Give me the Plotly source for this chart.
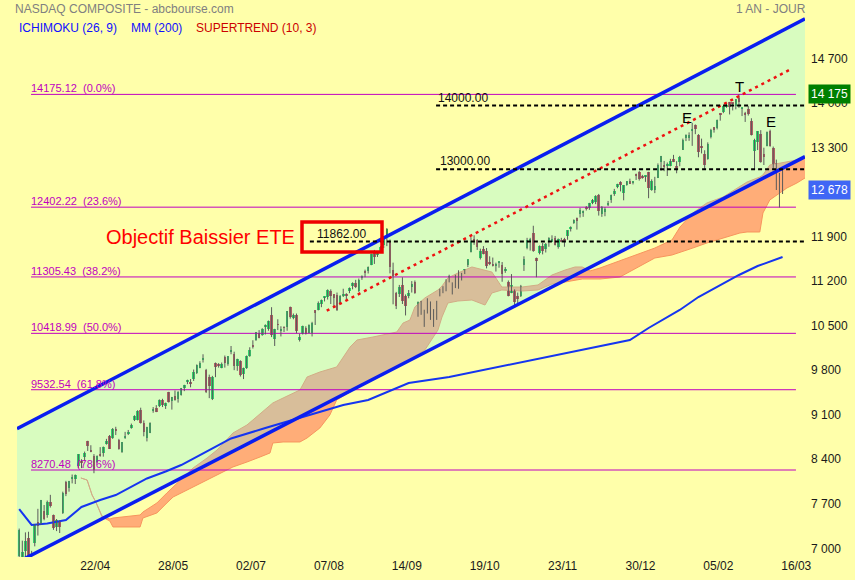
import plotly.graph_objects as go

# ---------------- candles : (open, high, low, close) per trading day ----------------
mar20 = [(6920,7350,6900,7334),(6904,7160,6780,6989),(6990,7290,6850,7150),(7200,7300,6870,6879),
         (6870,7000,6631,6860),(7120,7420,7070,7418),(7460,7660,7240,7384),(7440,7800,7410,7798),
         (7630,7720,7480,7502),(7560,7790,7520,7774),(7770,7880,7680,7700)]
apr20 = [(7560,7570,7330,7361),(7380,7500,7310,7487),(7450,7480,7280,7373),(7590,7930,7580,7913),
         (8080,8100,7860,7887),(7980,8100,7930,8091),(8140,8200,8060,8154),(8130,8200,8050,8192),
         (8330,8520,8300,8516),(8400,8440,8300,8393),(8470,8560,8410,8532),(8720,8730,8570,8650),
         (8580,8660,8550,8561),(8490,8520,8220,8263),(8400,8500,8380,8495),(8510,8630,8480,8495),
         (8530,8640,8480,8635),(8680,8760,8670,8730),(8810,8820,8600,8608),(8770,8930,8760,8915),
         (8900,8950,8820,8890)]
may20 = [(8740,8760,8590,8605),(8560,8710,8540,8711),(8780,8870,8760,8809),(8840,8900,8820,8854),
         (8930,9000,8920,8980),(9060,9130,9040,9121),(9060,9210,9050,9192),(9210,9250,9000,9003),
         (9010,9050,8800,8863),(8780,8950,8720,8944),(8850,9020,8850,9015),(9200,9260,9170,9235),
         (9240,9290,9180,9185),(9270,9380,9260,9376),(9370,9390,9260,9285),(9280,9330,9230,9325),
         (9500,9500,9330,9340),(9350,9420,9220,9412),(9440,9520,9360,9369),(9380,9510,9330,9490)]
jun20 = [(9450,9560,9440,9552),(9560,9610,9510,9608),(9650,9690,9620,9683),(9660,9700,9570,9616),
         (9700,9850,9670,9814),(9790,9930,9780,9925),(9880,9980,9870,9954),(10000,10090,9960,10020),
         (9840,9860,9480,9493),(9730,9770,9400,9589),(9380,9750,9370,9726),(9950,9960,9730,9896),
         (9930,9950,9880,9911),(9880,9960,9870,9943),(10050,10070,9880,9946),(9940,10060,9910,10056),
         (10130,10220,10090,10131),(10090,10130,9840,9909),(9900,10020,9830,10017),(9990,9995,9740,9757),
         (9780,9880,9700,9874),(9870,10070,9860,10059)]
jul20 = [(10060,10200,10050,10155),(10240,10310,10180,10208),(10310,10440,10300,10434),(10430,10470,10340,10344),
         (10400,10500,10380,10493),(10530,10560,10400,10548),(10480,10620,10460,10617),(10710,10830,10360,10391),
         (10330,10490,10220,10489),(10560,10640,10470,10550),(10460,10530,10370,10474),(10510,10530,10440,10503),
         (10520,10770,10460,10767),(10840,10840,10650,10680),(10660,10730,10640,10706),(10700,10730,10420,10461),
         (10320,10410,10290,10363),(10410,10540,10400,10536),(10510,10530,10400,10402),(10430,10560,10420,10543),
         (10420,10600,10370,10588),(10780,10780,10550,10745)]
aug20 = [(10790,10920,10780,10903),(10880,10950,10830,10941),(10990,11000,10920,10998),(10990,11110,10950,11108),
         (11090,11110,10880,11011),(11030,11030,10830,10968),(11020,11060,10770,10783),(10880,11020,10880,11012),
         (11020,11120,10990,11043),(11040,11050,10950,11019),(11080,11140,11050,11130),(11160,11220,11110,11211),
         (11210,11260,11130,11146),(11080,11280,11070,11265),(11290,11330,11260,11312),(11400,11420,11300,11380),
         (11400,11470,11360,11466),(11500,11670,11490,11665),(11700,11730,11510,11625),(11650,11700,11620,11696),
         (11720,11790,11690,11775)]
sep20 = [(11800,11950,11760,11940),(11950,12074,11790,12056),(11861,11894,11361,11458),(11420,11530,10875,11313),
         (11050,11070,10800,10848),(11040,11180,10990,11142),(11180,11300,10880,10920),(11000,11030,10700,10854),
         (11000,11100,10970,11057),(11150,11240,11060,11190),(11230,11250,11040,11050),(10780,10920,10680,10910),
         (10920,10930,10710,10793),(10690,10790,10520,10779),(10850,10970,10730,10964),(10910,10920,10630,10633),
         (10600,10800,10520,10672),(10640,10930,10630,10914),(11060,11120,11000,11118),(11130,11160,11050,11085),
         (11120,11270,11080,11168)]
oct20 = [(11290,11340,11220,11327),(11090,11220,11030,11075),(11140,11340,11130,11332),(11330,11410,11120,11155),
         (11270,11370,11250,11365),(11410,11430,11350,11421),(11490,11580,11460,11580),(11700,11930,11690,11876),
         (11900,11960,11810,11864),(11880,11900,11730,11769),(11600,11750,11580,11714),(11740,11790,11660,11672),
         (11720,11760,11440,11479),(11530,11630,11490,11516),(11500,11610,11470,11485),(11490,11530,11390,11506),
         (11530,11550,11450,11548),(11500,11540,11230,11359),(11400,11460,11370,11431),(11230,11250,11000,11005),
         (11060,11350,11050,11186),(11100,11110,10820,10912)]
nov20 = [(11010,11060,10860,10958),(11010,11180,10990,11161),(11500,11630,11400,11591),(11760,11920,11740,11891),
         (11850,11920,11720,11895),(12000,12110,11700,11714),(11600,11610,11300,11554),(11680,11800,11660,11786),
         (11790,11840,11660,11710),(11740,11840,11690,11829),(11850,11930,11780,11924),(11870,11960,11860,11899),
         (11920,11950,11800,11802),(11780,11910,11750,11905),(11880,11920,11850,11855),(11890,11920,11780,11881),
         (11950,12040,11890,12037),(12060,12100,12020,12094),(12150,12210,12140,12206),(12230,12240,12050,12199)]
dec20 = [(12290,12390,12240,12355),(12310,12350,12250,12349),(12380,12420,12350,12377),(12390,12470,12360,12464),
         (12460,12530,12450,12520),(12490,12590,12450,12583),(12600,12610,12270,12339),(12300,12420,12250,12406),
         (12330,12400,12260,12378),(12440,12500,12420,12450),(12520,12600,12470,12595),(12610,12690,12580,12658),
         (12720,12770,12700,12765),(12800,12810,12650,12756),(12620,12750,12510,12743),(12750,12810,12740,12808),
         (12810,12850,12770,12771),(12790,12810,12760,12805),(12910,12930,12830,12899),(12960,12970,12820,12850),
         (12890,12910,12850,12870),(12880,12900,12800,12888)]
jan21 = [(12958,12958,12543,12698),(12680,12840,12660,12819),(12667,12879,12623,12741),(12865,13090,12860,13067),
         (13120,13208,12975,13202),(13049,13129,12968,13036),(13060,13104,12892,13072),(13049,13162,13044,13129),
         (13155,13224,13111,13113),(13057,13125,12935,12999),(13117,13208,13045,13197),(13306,13480,13301,13457),
         (13486,13547,13441,13531),(13484,13578,13445,13543),(13608,13728,13366,13636),(13701,13703,13550,13626),
         (13541,13551,13187,13271),(13344,13480,13247,13337),(13245,13297,13004,13071)]
feb21 = [(13161,13421,13148,13403),(13501,13634,13483,13613),(13656,13657,13574,13611),(13650,13779,13625,13778),
         (13859,13879,13762,13856),(13904,13988,13880,13988),(13972,14043,13964,14008),(14050,14057,13860,13973),
         (14036,14045,13923,14026),(13999,14097,13940,14095),(14124,14175,13964,14048),(13955,13967,13834,13965),
         (13890,13900,13742,13865),(13943,13991,13842,13874),(13760,13800,13529,13533),(13285,13478,13003,13465),
         (13420,13599,13300,13598),(13552,13613,13101,13119),(13232,13337,13065,13192)]
mar21 = [(13358,13592,13358,13589),(13606,13620,13352,13359),(13340,13355,12993,12998),(13100,13150,12672,12723),
         (12841,12941,12397,12920),(12953,13028,12609,12678)]

# ---------------- indicators (bar index, value) ----------------
mm200_idx = [0, 4, 9, 15, 20, 26, 31, 36, 41, 47, 52, 58, 63, 68, 79, 90, 104, 112, 125, 138,
             154, 170, 186, 196, 202, 212, 218, 225, 231, 237, 245]
mm200_val = [7657, 7406, 7430, 7485, 7689, 7799, 7877, 8003, 8137, 8247, 8349, 8506, 8632, 8766,
             8931, 9088, 9292, 9371, 9638, 9732, 9890, 10047, 10204, 10314, 10503, 10786, 10990,
             11179, 11336, 11477, 11619]

cloud_idx = [19.8, 21.8, 23.4, 24.6, 26.6, 29.1, 30.1, 38.8, 39.7, 44.2, 47.4, 49.4, 52.6, 55.8,
             60.3, 63.5, 68.6, 73.1, 75.0, 77.3, 80.5, 81.4, 84.7, 90.1, 92.4, 96.5, 99.7, 101.9,
             106.2, 108.4, 113.5, 116.7, 121.2, 123.2, 125.4, 127.0, 130.2, 134.4, 135.7, 137.6,
             140.8, 145.3, 149.5, 151.7, 154.9, 161.4, 166.5, 168.7, 171.0, 175.2, 178.4, 180.7,
             183.2, 186.4, 192.8, 199.2, 204.0, 209.5, 212.1, 216.2, 220.7, 225.9, 231.3, 233.6,
             237.7, 238.7, 240.9, 246.4, 249.6, 252.2]
cloud_upper = [8145, 8113, 7877, 7767, 7547, 7500, 7516, 7563, 7610, 7752, 7909, 8003, 8145, 8302,
               8459, 8585, 8852, 8978, 9057, 9151, 9277, 9324, 9402, 9528, 9733, 9811, 9858, 9890,
               10204, 10314, 10361, 10393, 10440, 10581, 10628, 10833, 10975, 11100, 11163, 11289,
               11367, 11462, 11414, 11383, 11147, 11147, 11179, 11257, 11336, 11414, 11462, 11462,
               11399, 11446, 11556, 11666, 11760, 11886, 12091, 12311, 12468, 12562, 12719, 12798,
               12876, 12908, 13065, 13112, 13144, 13207]
cloud_lower = [8145, 8113, 7877, 7767, 7532, 7469, 7375, 7375, 7516, 7595, 7752, 7846, 7924, 8003,
               8113, 8192, 8318, 8396, 8428, 8475, 8538, 8695, 8711, 8711, 8774, 8931, 9135, 9371,
               9497, 9560, 9685, 9764, 9890, 9937, 9999, 10063, 10157, 10471, 10676, 10896, 10927,
               10943, 10864, 11053, 11100, 11084, 11100, 11147, 11194, 11226, 11257, 11273, 11273,
               11273, 11304, 11477, 11603, 11650, 11697, 11760, 11839, 11918, 11996, 12012, 12012,
               12311, 12515, 12704, 12782, 12861]

# channel & trend line (bar index, value)
chan_idx = [-0.7, 252.2]
chan_upper = [8920, 15362]
chan_lower = [6816, 13196]
trend_idx = [98.7, 247.4]
trend_val = [10775, 14565]

# Fibonacci retracements
fib_vals = [14175.12, 12402.22, 11305.43, 10418.99, 9532.54, 8270.48]
fib_pct = ["0.0%", "23.6%", "38.2%", "50.0%", "61.8%", "78.6%"]
fib_idx = [3.8, 249.3]

# horizontal levels
levels = [14000, 13000, 11862]
level_start = [133.8, 133.8, 93.3]
level_end = 252.2

# axis labels
tick_labels = ["22/04", "28/05", "02/07", "07/08", "14/09", "19/10", "23/11", "30/12", "05/02", "16/03"]
tick_first = 24.4
tick_step = 25
y_ticks = [7000, 7700, 8400, 9100, 9800, 10500, 11200, 11900, 13300, 14000, 14700]

last_price = 12678
top_price = 14175

# ---------------- build ----------------
rows = mar20 + apr20 + may20 + jun20 + jul20 + aug20 + sep20 + oct20 + nov20 + dec20 + jan21 + feb21 + mar21
o = [r[0] for r in rows]; h = [r[1] for r in rows]; l = [r[2] for r in rows]; c = [r[3] for r in rows]
idx = list(range(len(rows)))

BG = "#FFFFAA"
FONT = "Liberation Sans, Arial, sans-serif"
GREEN = "#22C83A"
RED = "#CC2F2F"

fig = go.Figure()

# Ichimoku cloud (opaque orange; the translucent channel band turns it tan inside)
fig.add_trace(go.Scatter(x=cloud_idx, y=cloud_lower, mode="lines",
                         line=dict(color="#F7955E", width=1), hoverinfo="skip", showlegend=False))
fig.add_trace(go.Scatter(x=cloud_idx, y=cloud_upper, mode="lines", fill="tonexty",
                         fillcolor="#FFAD78", line=dict(color="#F7955E", width=1),
                         hoverinfo="skip", showlegend=False))

# channel band
fig.add_trace(go.Scatter(x=chan_idx, y=chan_lower, mode="lines", line=dict(width=0),
                         hoverinfo="skip", showlegend=False))
fig.add_trace(go.Scatter(x=chan_idx, y=chan_upper, mode="lines", line=dict(width=0),
                         fill="tonexty", fillcolor="rgba(100,245,255,0.25)",
                         hoverinfo="skip", showlegend=False))

# fib lines
for v in fib_vals:
    fig.add_trace(go.Scatter(x=fib_idx, y=[v, v], mode="lines", line=dict(color="#C000C0", width=1),
                             hoverinfo="skip", showlegend=False))

# MM200
fig.add_trace(go.Scatter(x=mm200_idx, y=mm200_val, mode="lines", line=dict(color="#1535F0", width=2),
                         hoverinfo="skip", showlegend=False))

# wicks
wx, wy = [], []
for i in idx:
    wx += [i, i, None]
    wy += [l[i], h[i], None]
fig.add_trace(go.Scatter(x=wx, y=wy, mode="lines", line=dict(color="#5A5A5A", width=1),
                         hoverinfo="skip", showlegend=False))
# bodies
base = [min(a, b) for a, b in zip(o, c)]
hgt = [max(abs(b - a), 14) for a, b in zip(o, c)]
cols = [GREEN if b >= a else RED for a, b in zip(o, c)]
fig.add_trace(go.Bar(x=idx, y=hgt, base=base, width=0.82, marker=dict(color=cols, line=dict(width=0)),
                     hoverinfo="skip", showlegend=False))

# channel lines
fig.add_trace(go.Scatter(x=chan_idx, y=chan_upper, mode="lines", line=dict(color="#0A1EF0", width=3.5),
                         hoverinfo="skip", showlegend=False))
fig.add_trace(go.Scatter(x=chan_idx, y=chan_lower, mode="lines", line=dict(color="#0A1EF0", width=3.5),
                         hoverinfo="skip", showlegend=False))

# red dotted trend line
fig.add_trace(go.Scatter(x=trend_idx, y=trend_val, mode="lines",
                         line=dict(color="#EE1111", width=2.5, dash="3px,4px"),
                         hoverinfo="skip", showlegend=False))

# dashed horizontal levels
for v, s in zip(levels, level_start):
    fig.add_trace(go.Scatter(x=[s, level_end], y=[v, v], mode="lines",
                             line=dict(color="#000000", width=2, dash="4px,3px"),
                             hoverinfo="skip", showlegend=False))

# invisible trace carrying the label axis
fig.add_trace(go.Scatter(x=[0], y=[10000], yaxis="y2", mode="markers", marker=dict(opacity=0),
                         hoverinfo="skip", showlegend=False))

# ---------------- layout helpers (pixel -> paper) ----------------
L, R, T, B = 17, 805, 15, 557
def px(xp):
    return (xp - L) / (R - L)
def py(yp):
    return (B - yp) / (B - T)

ann = []
def text(xp, yp, s, color, size, xanchor="left", yanchor="middle"):
    ann.append(dict(x=px(xp), y=py(yp), xref="paper", yref="paper", text=s, showarrow=False,
                    xanchor=xanchor, yanchor=yanchor, font=dict(family=FONT, size=size, color=color)))

text(13, 9, "NASDAQ COMPOSITE - abcbourse.com", "#808080", 12)
text(808, 9, "1 AN - JOUR", "#808080", 12, xanchor="right")
text(17, 28, "ICHIMOKU (26, 9)", "#1010FF", 12)
text(129, 28, "MM (200)", "#1010FF", 12)
text(194, 28, "SUPERTREND (10, 3)", "#CC0000", 12)

for v, p in zip(fib_vals, fib_pct):
    ann.append(dict(x=px(29), y=v, xref="paper", yref="y", text=f"{v:.2f}  ({p})", showarrow=False,
                    xanchor="left", yanchor="bottom", yshift=-2,
                    font=dict(family=FONT, size=11, color="#C000C0")))

ann.append(dict(x=px(436), y=levels[0], xref="paper", yref="y", text=f"{levels[0]:.2f}", showarrow=False,
                xanchor="left", yanchor="bottom", yshift=-1, font=dict(family=FONT, size=12, color="#111")))
ann.append(dict(x=px(438), y=levels[1], xref="paper", yref="y", text=f"{levels[1]:.2f}", showarrow=False,
                xanchor="left", yanchor="bottom", yshift=-1, font=dict(family=FONT, size=12, color="#111")))
ann.append(dict(x=px(315), y=levels[2], xref="paper", yref="y", text=f"{levels[2]:.2f}", showarrow=False,
                xanchor="left", yanchor="bottom", yshift=-1, font=dict(family=FONT, size=12, color="#111")))

text(104, 237, "Objectif Baissier ETE", "#FF0000", 20)
text(739, 86, "T", "#000000", 15, xanchor="center")
text(687, 117, "E", "#000000", 15, xanchor="center")
text(771, 121, "E", "#000000", 15, xanchor="center")

ann.append(dict(x=px(808), y=top_price, xref="paper", yref="y", text=f"{top_price:,}".replace(",", " "),
                showarrow=False, xanchor="left", yanchor="middle", bgcolor="#008000", borderpad=2,
                font=dict(family=FONT, size=12, color="#FFFFFF")))
ann.append(dict(x=px(808), y=last_price, xref="paper", yref="y", text=f"{last_price:,}".replace(",", " "),
                showarrow=False, xanchor="left", yanchor="middle", bgcolor="#3F66F5", borderpad=2,
                font=dict(family=FONT, size=12, color="#FFFFFF")))

shapes = [dict(type="rect", xref="paper", yref="paper", x0=px(302), x1=px(382), y0=py(252), y1=py(222),
               line=dict(color="#EE0000", width=3.5), fillcolor="rgba(0,0,0,0)")]

y_lo = 14700 - (B - 61) * 15.72
y_hi = 14700 + (61 - T) * 15.72
shift = 39

fig.update_layout(
    width=855, height=580, autosize=False,
    margin=dict(l=L, r=855 - R, t=T, b=580 - B, pad=0, autoexpand=False),
    paper_bgcolor=BG, plot_bgcolor=BG,
    separators=". ",
    showlegend=False, bargap=0,
    font=dict(family=FONT, size=12, color="#1a1a1a"),
    xaxis=dict(range=[-0.7, 252.2], showgrid=False, zeroline=False, showline=False, ticks="",
               tickmode="array", automargin=False,
               tickvals=[tick_first + tick_step * k for k in range(len(tick_labels))],
               ticktext=tick_labels, tickfont=dict(size=12, color="#1a1a1a"), fixedrange=True),
    yaxis=dict(range=[y_lo, y_hi], showgrid=False, zeroline=False, showticklabels=False, ticks="",
               automargin=False, fixedrange=True),
    yaxis2=dict(range=[y_lo - shift, y_hi - shift], overlaying="y", side="right", showgrid=False,
                zeroline=False, tickmode="array", tickvals=y_ticks, tickformat=",d", ticks="",
                automargin=False, ticklabelstandoff=5,
                tickfont=dict(size=12, color="#1a1a1a"), fixedrange=True),
    annotations=ann, shapes=shapes,
)

page_js = ("var s=[document.documentElement.style, document.body.style];"
           "for (var k=0;k<s.length;k++){s[k].margin='0px';s[k].padding='0px';s[k].overflow='hidden';"
           "s[k].background='#FFFFAA';}")

fig.write_html("out.html", config={"displayModeBar": False}, post_script=page_js)
